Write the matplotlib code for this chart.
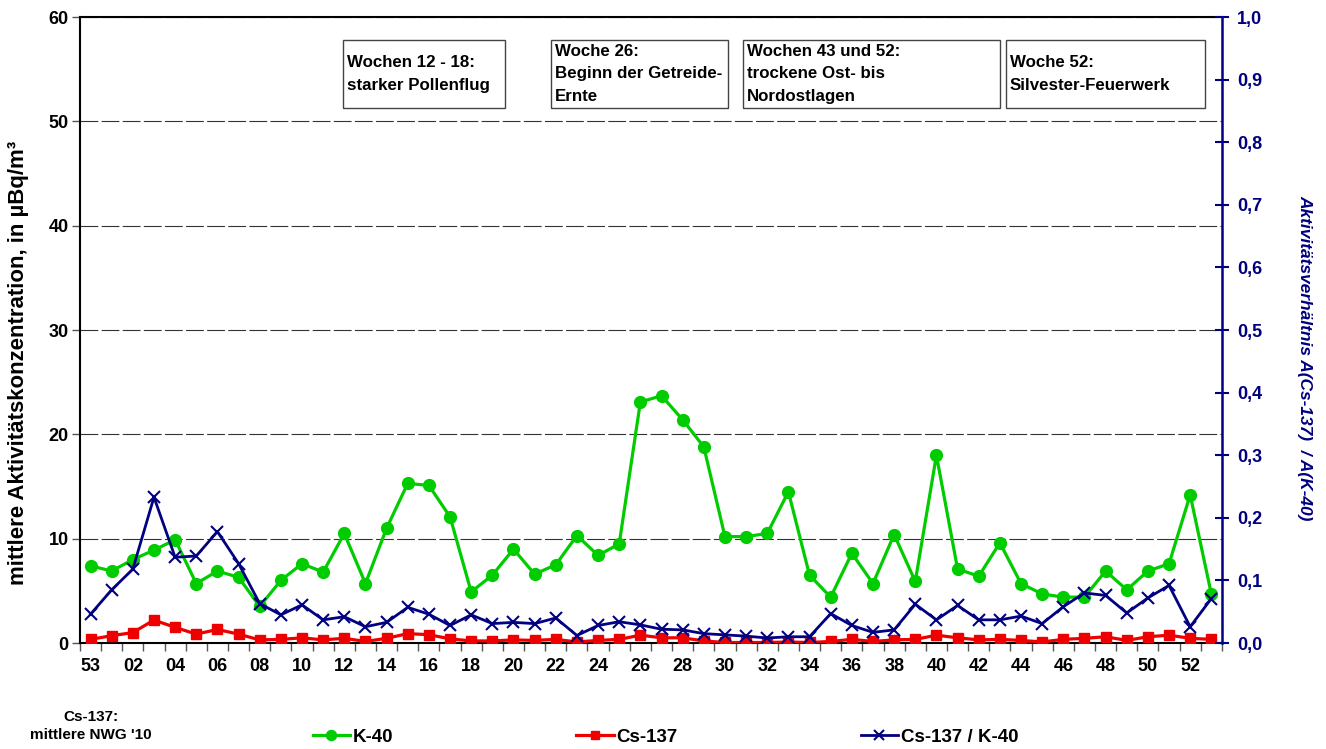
import numpy as np
import matplotlib
matplotlib.use('Agg')
import matplotlib.pyplot as plt
from matplotlib.patches import Rectangle
from matplotlib.ticker import FuncFormatter

plt.rcParams['font.family'] = ['Liberation Sans', 'DejaVu Sans']
plt.rcParams['font.weight'] = 'bold'

# Kalenderwochen (53 vom Vorjahr bis 53)
weeks = ['53'] + ['%02d' % w for w in range(1, 54)]

k40 = [7.4, 6.9, 8.0, 8.9, 9.9, 5.7, 6.9, 6.3, 3.5, 6.0,
       7.6, 6.8, 10.5, 5.7, 11.0, 15.3, 15.1, 12.1, 4.9, 6.5,
       9.0, 6.6, 7.5, 10.3, 8.4, 9.5, 23.1, 23.7, 21.4, 18.8,
       10.2, 10.2, 10.5, 14.5, 6.5, 4.4, 8.6, 5.7, 10.4, 5.9,
       18.0, 7.1, 6.4, 9.6, 5.7, 4.7, 4.4, 4.4, 6.9, 5.1,
       6.9, 7.6, 14.2, 4.7]

cs137 = [0.35, 0.7, 1.0, 2.2, 1.5, 0.85, 1.3, 0.85, 0.3, 0.35,
         0.5, 0.3, 0.45, 0.15, 0.45, 0.9, 0.8, 0.4, 0.2, 0.2,
         0.3, 0.25, 0.35, 0.1, 0.25, 0.35, 0.75, 0.5, 0.5, 0.2,
         0.05, 0.05, 0.05, 0.1, 0.05, 0.15, 0.35, 0.15, 0.3, 0.35,
         0.75, 0.5, 0.3, 0.35, 0.25, 0.1, 0.35, 0.45, 0.6, 0.25,
         0.6, 0.75, 0.45, 0.35]

ratio = [0.046, 0.085, 0.118, 0.233, 0.137, 0.139, 0.178, 0.127, 0.063, 0.045,
         0.061, 0.037, 0.042, 0.026, 0.033, 0.057, 0.046, 0.028, 0.045, 0.031,
         0.033, 0.031, 0.040, 0.012, 0.028, 0.034, 0.029, 0.022, 0.021, 0.015,
         0.013, 0.011, 0.008, 0.010, 0.010, 0.047, 0.028, 0.017, 0.021, 0.062,
         0.037, 0.060, 0.037, 0.037, 0.043, 0.031, 0.058, 0.080, 0.076, 0.048,
         0.072, 0.092, 0.026, 0.071]

notes = ['Wochen 12 - 18:\nstarker Pollenflug',
         'Woche 26:\nBeginn der Getreide-\nErnte',
         'Wochen 43 und 52:\ntrockene Ost- bis\nNordostlagen',
         'Woche 52:\nSilvester-Feuerwerk']
# Kastengrenzen in Achsenbruchteilen (links, rechts)
note_x = [(0.2303, 0.3722), (0.4124, 0.5674), (0.5806, 0.8056), (0.8109, 0.9851)]

GREEN = '#00cc00'
RED = '#ee0000'
NAVY = '#000080'

fig = plt.figure(figsize=(13.26, 7.49), dpi=100)
ax = fig.add_axes([0.0603, 0.1415, 0.8612, 0.8358])
ax2 = ax.twinx()

x = np.arange(len(weeks))

l1, = ax.plot(x, k40, color=GREEN, lw=2.3, marker='o', ms=8.5, label='K-40', zorder=3)
l2, = ax.plot(x, cs137, color=RED, lw=2.3, marker='s', ms=7.5, label='Cs-137', zorder=4)
l3, = ax2.plot(x, ratio, color=NAVY, lw=2.0, marker='x', ms=9, mew=1.5, label='Cs-137 / K-40', zorder=5)

ax.set_xlim(-0.5, len(weeks) - 0.5)
ax.set_ylim(0, 60)
ax2.set_ylim(0, 1.0)

# x-Achse: Beschriftung jede zweite Woche, Striche zwischen Kategorien
ax.set_xticks(x[::2])
ax.set_xticklabels(weeks[::2])
ax.set_xticks(np.arange(-0.5, len(weeks), 1), minor=True)
ax.tick_params(axis='x', which='major', length=0, labelsize=13, pad=11)
ax.tick_params(axis='x', which='minor', length=6, width=1, color='#555555', direction='out')

ax.set_yticks(np.arange(0, 61, 10))
ax.tick_params(axis='y', which='major', length=6, width=1, color='#555555', labelsize=13, pad=2)

ax2.set_yticks(np.arange(0, 1.01, 0.1))
ax2.yaxis.set_major_formatter(FuncFormatter(lambda v, p: ('%.1f' % v).replace('.', ',')))
ax2.tick_params(axis='y', length=10, width=1.5, color=NAVY, direction='inout',
                labelcolor=NAVY, labelsize=13, pad=6)

ax.yaxis.grid(True, color='#333333', lw=0.8, linestyle=(0, (16, 3)))
ax.set_axisbelow(True)

for sp in ['left', 'bottom', 'top']:
    ax.spines[sp].set_color('black')
    ax.spines[sp].set_linewidth(1.5)
ax.spines['right'].set_visible(False)
ax2.spines['right'].set_color(NAVY)
ax2.spines['right'].set_linewidth(1.8)
ax2.spines['left'].set_visible(False)
ax2.spines['top'].set_visible(False)
ax2.spines['bottom'].set_visible(False)

# Hinweiskästen
for txt, (x0, x1) in zip(notes, note_x):
    ax2.add_patch(Rectangle((x0, 0.8546), x1 - x0, 0.1087, transform=ax2.transAxes,
                            facecolor='white', edgecolor='#444444', lw=1.0, zorder=6))
    ax2.text(x0 + 0.0035, 0.909, txt, transform=ax2.transAxes, ha='left', va='center',
             fontsize=12.2, linespacing=1.62, zorder=7)

fig.text(0.0143, 0.515, 'mittlere Aktivitätskonzentration, in µBq/m³',
         rotation=90, ha='center', va='center', fontsize=16)
fig.text(0.984, 0.523, 'Aktivitätsverhältnis A(Cs-137)  / A(K-40)', rotation=270,
         ha='center', va='center', fontsize=12.5, style='italic', color=NAVY)

fig.text(0.0686, 0.0307, "Cs-137:\nmittlere NWG '10", ha='center', va='center',
         fontsize=11, linespacing=1.45)

fig.legend([l1, l2, l3], ['K-40', 'Cs-137', 'Cs-137 / K-40'], loc='center',
           bbox_to_anchor=(0.502, 0.016), ncol=3, frameon=False, fontsize=13.5,
           handlelength=2.0, handletextpad=0.15, columnspacing=9.75, markerscale=0.85)

plt.savefig('out.png', dpi=100)
plt.close()
